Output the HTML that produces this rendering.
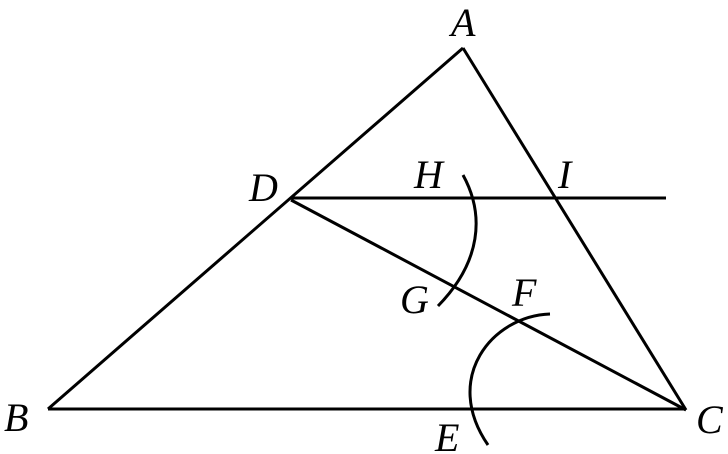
<!DOCTYPE html>
<html><head><meta charset="utf-8"><style>
html,body{margin:0;padding:0;background:#fff;}
svg{display:block;}
text{font-family:"Liberation Serif",serif;font-style:italic;font-size:40px;fill:#000;}
</style></head><body>
<svg width="728" height="454" viewBox="0 0 728 454" xmlns="http://www.w3.org/2000/svg">
<g stroke="#000" stroke-width="3" fill="none" stroke-linecap="butt">
<line x1="463" y1="48" x2="48" y2="409"/>
<line x1="463" y1="48" x2="686" y2="410"/>
<line x1="48" y1="409" x2="686" y2="409"/>
<line x1="291" y1="198" x2="666" y2="198"/>
<line x1="291" y1="200" x2="686" y2="410"/>
<path d="M463,175 C485,215 481,262 438,306"/>
<path d="M550,314 C492,316 442,378 488,445"/>
</g>
<text x="451" y="36">A</text>
<text x="4" y="431">B</text>
<text x="696" y="433">C</text>
<text x="249" y="201">D</text>
<text x="414" y="188">H</text>
<text x="558" y="188">I</text>
<text x="400" y="313">G</text>
<text x="512" y="306">F</text>
<text x="435" y="451">E</text>
</svg>
</body></html>
